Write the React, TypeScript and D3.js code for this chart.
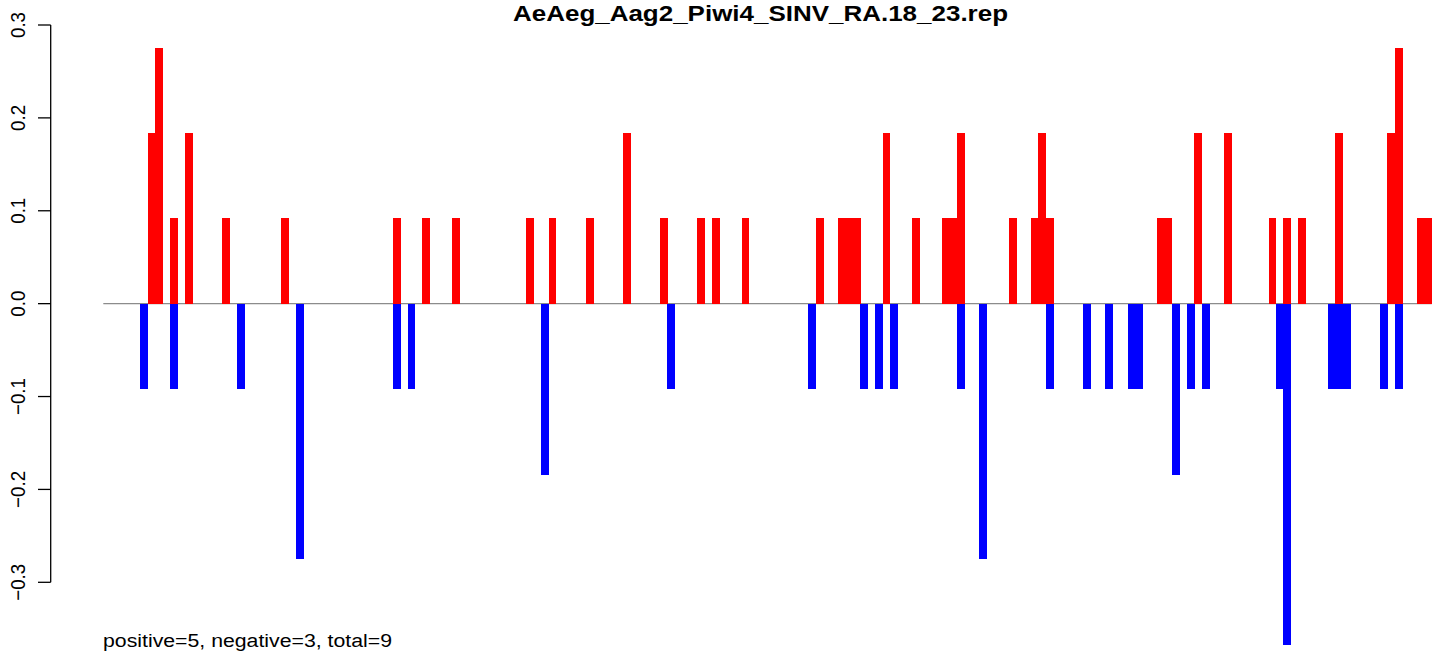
import React from "react";
import * as d3 from "d3";

const title = "AeAeg_Aag2_Piwi4_SINV_RA.18_23.rep";
const footnote = "positive=5, negative=3, total=9";

// position index along the sequence (one bar per position)
const positivePositions = [6, 7, 9, 11, 16, 24, 39, 43, 47, 57, 60, 65, 70, 75, 80, 82, 86, 96, 99, 100, 101, 105, 109, 113, 114, 115, 122, 125, 126, 127, 142, 143, 147, 151, 157, 159, 161, 166, 173, 174, 177, 178];
const positiveValues = [0.184, 0.275, 0.092, 0.184, 0.092, 0.092, 0.092, 0.092, 0.092, 0.092, 0.092, 0.092, 0.184, 0.092, 0.092, 0.092, 0.092, 0.092, 0.092, 0.092, 0.092, 0.184, 0.092, 0.092, 0.092, 0.184, 0.092, 0.092, 0.184, 0.092, 0.092, 0.092, 0.184, 0.184, 0.092, 0.092, 0.092, 0.184, 0.184, 0.275, 0.092, 0.092];

const negativePositions = [5, 9, 18, 26, 39, 41, 59, 76, 95, 102, 104, 106, 115, 118, 127, 132, 135, 138, 139, 144, 146, 148, 158, 159, 165, 166, 167, 172, 174];
const negativeValues = [-0.092, -0.092, -0.092, -0.275, -0.092, -0.092, -0.184, -0.092, -0.092, -0.092, -0.092, -0.092, -0.092, -0.275, -0.092, -0.092, -0.092, -0.092, -0.092, -0.184, -0.092, -0.092, -0.092, -0.367, -0.092, -0.092, -0.092, -0.092, -0.092];

const nPositions = 179;
const yTicks = [-0.3, -0.2, -0.1, 0, 0.1, 0.2, 0.3];

export default function App() {
  const W = 1452;
  const H = 656;
  const x = d3.scaleLinear().domain([0, nPositions]).range([103.3, 1431.8]);
  const y = d3.scaleLinear().domain([-0.3, 0.3]).range([582.3, 25]);
  const bw = x(1) - x(0);
  const axisX = 50.7;
  const font = "'Liberation Sans', Arial, Helvetica, sans-serif";
  const fmt = (v: number) => (v < 0 ? "\u2212" : "") + Math.abs(v).toFixed(1);

  const pos = positivePositions.map((p, i) => ({ p, v: positiveValues[i] }));
  const neg = negativePositions.map((p, i) => ({ p, v: negativeValues[i] }));

  return (
    <svg
      width={W}
      height={H}
      style={{ position: "absolute", left: 0, top: 0, background: "#fff" }}
      fontFamily={font}
    >
      <rect x={0} y={0} width={W} height={H} fill="#fff" />
      {/* zero line */}
      <line x1={x(0)} x2={x(nPositions)} y1={y(0)} y2={y(0)} stroke="#8c8c8c" strokeWidth={1.2} />
      <g shapeRendering="crispEdges">
        {pos.map((d, i) => (
          <rect key={"p" + i} x={x(d.p)} width={bw + 0.4} y={y(d.v)} height={y(0) - y(d.v)} fill="#ff0000" />
        ))}
        {neg.map((d, i) => (
          <rect key={"n" + i} x={x(d.p)} width={bw + 0.4} y={y(0)} height={y(d.v) - y(0)} fill="#0000ff" />
        ))}
      </g>
      {/* y axis */}
      <line x1={axisX} x2={axisX} y1={y(0.3)} y2={y(-0.3)} stroke="#000" strokeWidth={1.3} />
      {yTicks.map((t) => (
        <g key={t}>
          <line x1={axisX - 12.7} x2={axisX} y1={y(t)} y2={y(t)} stroke="#000" strokeWidth={1.3} />
          <text
            transform={`translate(24.5, ${y(t)}) scale(1.11, 1) rotate(-90)`}
            textAnchor="middle"
            fontSize={18.7}
            fill="#000"
          >
            {fmt(t)}
          </text>
        </g>
      ))}
      <text
        x={760.5}
        y={21}
        textAnchor="middle"
        fontWeight="bold"
        fontSize={22.8}
        textLength={495}
        lengthAdjust="spacingAndGlyphs"
        fill="#000"
      >
        {title}
      </text>
      <text
        x={103}
        y={646.5}
        fontSize={18.8}
        textLength={289}
        lengthAdjust="spacingAndGlyphs"
        fill="#000"
      >
        {footnote}
      </text>
    </svg>
  );
}
